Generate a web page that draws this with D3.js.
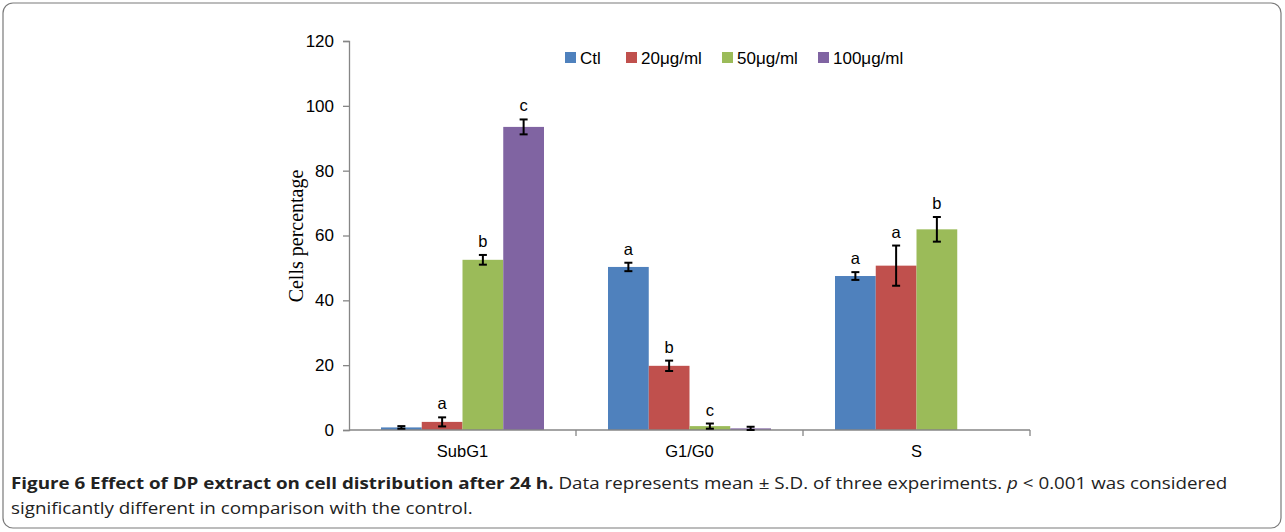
<!DOCTYPE html>
<html>
  <head>
    <meta charset="utf-8">
    <title>cell distribution</title>
    <script src="https://d3js.org/d3.v7.min.js"></script>
  </head>
  <style>
    body { margin: 0; background: #fff; }
    .tick-label { font-family: "Liberation Sans", Arial, sans-serif; font-size: 17px; fill: #000; }
    .caption { font-family: "Open Sans", sans-serif; font-size: 16.5px; fill: #222; }
  </style>
  <body>
    <script>
      const width = 1285;
      const height = 532;

      // data
      const phases = ["SubG1", "G1/G0", "S"];
      const doses = ["Ctl", "20\u03bcg/ml", "50\u03bcg/ml", "100\u03bcg/ml"];
      const ctlVals = [0.8, 50.3, 47.5];
      const ctlErr = [0.4, 1.3, 1.2];
      const d20Vals = [2.5, 19.8, 50.7];
      const d20Err = [1.4, 1.6, 6.2];
      const d50Vals = [52.5, 1.2, 61.9];
      const d50Err = [1.5, 0.8, 3.8];
      const d100Vals = [93.5, 0.5, null];
      const d100Err = [2.3, 0.5, null];
      const ctlSig = ["", "a", "a"];
      const d20Sig = ["a", "b", "a"];
      const d50Sig = ["b", "c", "b"];
      const d100Sig = ["c", "", ""];
      const yTicks = [0, 20, 40, 60, 80, 100, 120];
      const colors = ["#4F81BD", "#C0504D", "#9BBB59", "#8064A2"];

      const seriesVals = [ctlVals, d20Vals, d50Vals, d100Vals];
      const seriesErr = [ctlErr, d20Err, d50Err, d100Err];
      const seriesSig = [ctlSig, d20Sig, d50Sig, d100Sig];

      const rows = [];
      phases.forEach(function(p, i) {
        doses.forEach(function(d, j) {
          if (seriesVals[j][i] == null) return;
          rows.push({phase: p, dose: d, idx: j, value: seriesVals[j][i], err: seriesErr[j][i], sig: seriesSig[j][i]});
        });
      });

      const plotLeft = 349, plotRight = 1030, plotTop = 41, plotBottom = 430;

      const svg = d3.select("body")
        .append("svg")
          .attr("width", width)
          .attr("height", height);

      // frame
      svg.append("rect")
          .attr("x", 3).attr("y", 3)
          .attr("width", 1278).attr("height", 525)
          .attr("rx", 10).attr("ry", 10)
          .attr("fill", "none")
          .attr("stroke", "#7a7a7a")
          .attr("stroke-width", 1.2);

      const xScale = d3.scaleBand()
        .domain(phases)
        .range([plotLeft, plotRight]);

      // ~32px gap each side of the four bars
      const xInner = d3.scaleBand()
        .domain(doses)
        .range([32, xScale.bandwidth() - 32]);

      const yScale = d3.scaleLinear()
        .domain([0, 120])
        .range([plotBottom, plotTop]);

      // y axis
      const yAxis = d3.axisLeft(yScale).tickValues(yTicks).tickSize(6).tickPadding(9);
      const gy = svg.append("g")
          .attr("transform", "translate(" + plotLeft + ",0)")
          .call(yAxis);
      gy.select(".domain").attr("stroke", "#868686").attr("stroke-width", 1.3);
      gy.selectAll(".tick line").attr("stroke", "#868686").attr("stroke-width", 1.3);
      gy.selectAll(".tick text").attr("class", "tick-label").attr("fill", "#000");

      // bars
      svg.append("g")
        .selectAll("rect")
        .data(rows)
        .enter()
        .append("rect")
          .attr("x", function(d) { return xScale(d.phase) + xInner(d.dose); })
          .attr("y", function(d) { return yScale(d.value); })
          .attr("width", xInner.bandwidth())
          .attr("height", function(d) { return yScale(0) - yScale(d.value); })
          .attr("fill", function(d) { return colors[d.idx]; });

      // x axis
      const gx = svg.append("g")
          .attr("transform", "translate(0," + plotBottom + ")");
      gx.append("line")
          .attr("x1", plotLeft).attr("x2", plotRight)
          .attr("y1", 0).attr("y2", 0)
          .attr("stroke", "#868686").attr("stroke-width", 1.3);
      phases.forEach(function(p) {
        gx.append("line")
            .attr("x1", xScale(p) + xScale.bandwidth()).attr("x2", xScale(p) + xScale.bandwidth())
            .attr("y1", 0).attr("y2", 6)
            .attr("stroke", "#868686").attr("stroke-width", 1.3);
        gx.append("text")
            .attr("class", "tick-label")
            .style("font-size", "16.5px")
            .attr("x", xScale(p) + xScale.bandwidth() / 2)
            .attr("y", 27)
            .attr("text-anchor", "middle")
            .text(p);
      });

      // error bars
      const eb = svg.append("g").attr("stroke", "#000").attr("stroke-width", 2);
      rows.forEach(function(d) {
        const cx = xScale(d.phase) + xInner(d.dose) + xInner.bandwidth() / 2;
        const lo = Math.max(0, d.value - d.err);
        const hi = d.value + d.err;
        eb.append("line").attr("x1", cx).attr("x2", cx).attr("y1", yScale(lo)).attr("y2", yScale(hi));
        eb.append("line").attr("x1", cx - 4).attr("x2", cx + 4).attr("y1", yScale(lo)).attr("y2", yScale(lo));
        eb.append("line").attr("x1", cx - 4).attr("x2", cx + 4).attr("y1", yScale(hi)).attr("y2", yScale(hi));
        if (d.sig) {
          svg.append("text")
              .attr("class", "tick-label")
              .style("font-size", "16.5px")
              .attr("x", cx)
              .attr("y", yScale(hi) - 8)
              .attr("text-anchor", "middle")
              .text(d.sig);
        }
      });

      // y title
      svg.append("text")
          .attr("transform", "translate(303,236) rotate(-90)")
          .attr("text-anchor", "middle")
          .style("font-family", "'Liberation Serif', 'Times New Roman', serif")
          .style("font-size", "20px")
          .text("Cells percentage");

      // legend
      const legendX = [565, 626, 722, 818];
      const legend = svg.append("g");
      doses.forEach(function(d, i) {
        legend.append("rect")
            .attr("x", legendX[i]).attr("y", 52)
            .attr("width", 11).attr("height", 11)
            .attr("fill", colors[i]);
        legend.append("text")
            .attr("class", "tick-label")
            .attr("x", legendX[i] + 15).attr("y", 64)
            .text(d);
      });

      // caption, first line stretched to the full frame width
      const cap = svg.append("g");
      const cap1 = cap.append("text").attr("class", "caption").attr("x", 0).attr("y", 489);
      cap1.append("tspan").style("font-weight", "bold")
          .text("Figure 6 Effect of DP extract on cell distribution after 24 h.");
      cap1.append("tspan").text(" Data represents mean \u00b1 S.D. of three experiments. ");
      cap1.append("tspan").style("font-style", "italic").text("p");
      cap1.append("tspan").text(" < 0.001 was considered");
      cap.append("text").attr("class", "caption").attr("x", 0).attr("y", 514)
          .text("significantly different in comparison with the control.");
      const sx = 1217 / cap1.node().getComputedTextLength();
      cap.attr("transform", "translate(11,0) scale(" + sx + ",1)");
    </script>
  </body>
</html>
